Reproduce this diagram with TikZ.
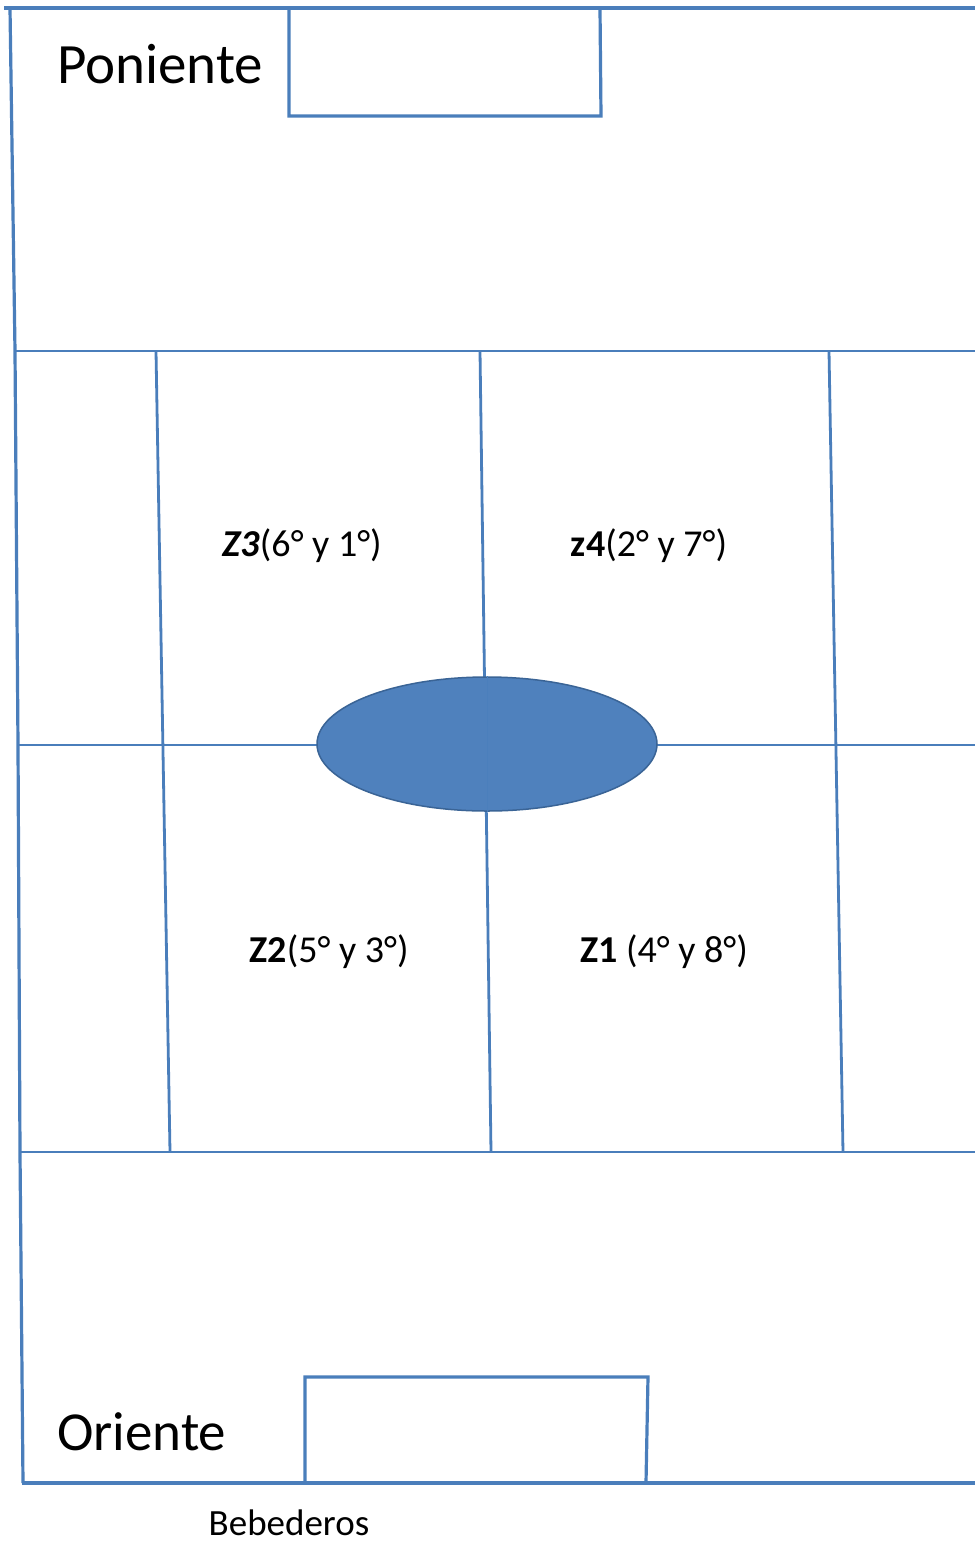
\documentclass[tikz,border=0pt]{standalone}
\usepackage{fontspec}
\setmainfont{Carlito}
\usetikzlibrary{shapes.geometric}
\definecolor{planline}{HTML}{4A7EBB}
\definecolor{poolfill}{HTML}{4F81BD}
\definecolor{pooledge}{HTML}{3A6496}
\tikzset{
  wall/.style={draw=planline, line width=3.2pt},
  inner/.style={draw=planline, line width=2.8pt},
  bigtxt/.style={anchor=base west, inner sep=0pt, font=\fontsize{57}{62}\selectfont},
  zonetxt/.style={inner sep=0pt, font=\fontsize{38}{42}\selectfont},
  smalltxt/.style={inner sep=0pt, anchor=base, font=\fontsize{37}{40}\selectfont}
}
\begin{document}
\begin{tikzpicture}[x=1pt,y=-1pt]
\useasboundingbox[fill=white] (0,0) rectangle (975,1543);
% outer frame
\draw[wall] (4,8) -- (975,8);
\draw[wall] (10,8) -- (15,351) -- (18,745) -- (20,1152) -- (23,1483);
\draw[wall] (22,1483) -- (975,1483);
% horizontal lines
\draw[inner] (15,351) -- (975,351);
\draw[inner] (18,745) -- (975,745);
\draw[inner] (19,1152) -- (975,1152);
% vertical lines
\draw[inner] (156,351) -- (170,1152);
\draw[inner] (480,351) -- (491,1152);
\draw[inner] (829,351) -- (843,1152);
% Poniente box
\draw[wall] (289,8) -- (289,116) -- (601,116) -- (600,8);
% Oriente box
\draw[wall] (305,1483) -- (305,1377) -- (648,1377) -- (646,1483);
% central pool
\node[ellipse, draw=pooledge, line width=1.5pt, fill=poolfill, minimum width=340pt, minimum height=134pt, inner sep=0pt] (pool) at (487,744) {};
\draw[draw=planline!70!poolfill, line width=1pt] (pool.north) -- (pool.south);
% labels
\node[bigtxt] (poniente) at (57,83) {Poniente};
\node[bigtxt, font=\fontsize{55}{60}\selectfont] (oriente) at (57,1450) {Oriente};
\node[smalltxt] (bebederos) at (289,1535) {Bebederos};
\node[zonetxt] (z3) at (302,546) {\textbf{\textit{Z3}}(6° y 1°)};
\node[zonetxt] (z4) at (649,546) {\textbf{z4}(2° y 7°)};
\node[zonetxt] (z2) at (329,952) {\textbf{Z2}(5° y 3°)};
\node[zonetxt] (z1) at (664,952) {\textbf{Z1} (4° y 8°)};
\end{tikzpicture}
\end{document}
